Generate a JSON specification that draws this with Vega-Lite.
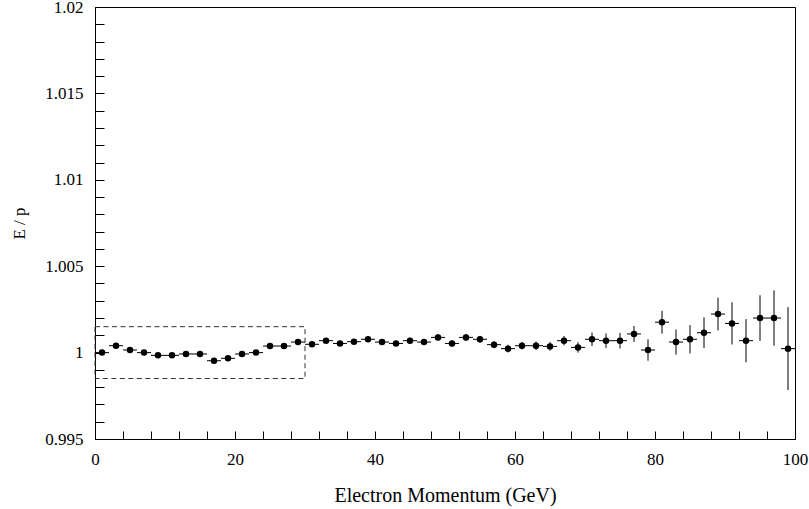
{
  "$schema": "https://vega.github.io/schema/vega-lite/v6.json",
  "width": 700,
  "height": 432,
  "autosize": {"type": "none"},
  "padding": {"left": 95, "top": 7, "right": 14, "bottom": 70},
  "background": "white",
  "config": {
    "font": "Liberation Serif, DejaVu Serif, serif",
    "view": {"stroke": "black", "strokeWidth": 1},
    "axis": {
      "grid": false,
      "domainColor": "black",
      "domainWidth": 1,
      "tickColor": "black",
      "tickWidth": 1,
      "labelColor": "black",
      "titleColor": "black",
      "labelFont": "Liberation Serif, DejaVu Serif, serif",
      "titleFont": "Liberation Serif, DejaVu Serif, serif",
      "labelFontSize": 17,
      "titleFontWeight": "normal",
      "labelOverlap": false,
      "labelBound": false,
      "labelFlush": false
    }
  },
  "datasets": {
    "pts": [
      {"p": 1, "ep": 1.0000, "err": 0.0001, "dp": 1},
      {"p": 3, "ep": 1.0004, "err": 0.0001, "dp": 1},
      {"p": 5, "ep": 1.00015, "err": 0.0001, "dp": 1},
      {"p": 7, "ep": 1.0000, "err": 0.0001, "dp": 1},
      {"p": 9, "ep": 0.99984, "err": 0.0001, "dp": 1},
      {"p": 11, "ep": 0.99984, "err": 0.0001, "dp": 1},
      {"p": 13, "ep": 0.99992, "err": 0.0001, "dp": 1},
      {"p": 15, "ep": 0.99992, "err": 0.0001, "dp": 1},
      {"p": 17, "ep": 0.99953, "err": 0.0001, "dp": 1},
      {"p": 19, "ep": 0.99967, "err": 0.0001, "dp": 1},
      {"p": 21, "ep": 0.99992, "err": 0.0001, "dp": 1},
      {"p": 23, "ep": 1.0000, "err": 0.0001, "dp": 1},
      {"p": 25, "ep": 1.00038, "err": 0.0001, "dp": 1},
      {"p": 27, "ep": 1.00038, "err": 0.0001, "dp": 1},
      {"p": 29, "ep": 1.00061, "err": 0.0001, "dp": 1},
      {"p": 31, "ep": 1.00048, "err": 0.00012, "dp": 1},
      {"p": 33, "ep": 1.00069, "err": 0.00012, "dp": 1},
      {"p": 35, "ep": 1.00053, "err": 0.00012, "dp": 1},
      {"p": 37, "ep": 1.00063, "err": 0.00013, "dp": 1},
      {"p": 39, "ep": 1.00077, "err": 0.00013, "dp": 1},
      {"p": 41, "ep": 1.00061, "err": 0.00014, "dp": 1},
      {"p": 43, "ep": 1.00053, "err": 0.00015, "dp": 1},
      {"p": 45, "ep": 1.00069, "err": 0.00017, "dp": 1},
      {"p": 47, "ep": 1.00061, "err": 0.00017, "dp": 1},
      {"p": 49, "ep": 1.00088, "err": 0.00018, "dp": 1},
      {"p": 51, "ep": 1.00053, "err": 0.00018, "dp": 1},
      {"p": 53, "ep": 1.00088, "err": 0.0002, "dp": 1},
      {"p": 55, "ep": 1.00077, "err": 0.0002, "dp": 1},
      {"p": 57, "ep": 1.00046, "err": 0.0002, "dp": 1},
      {"p": 59, "ep": 1.00023, "err": 0.00022, "dp": 1},
      {"p": 61, "ep": 1.0004, "err": 0.00022, "dp": 1},
      {"p": 63, "ep": 1.0004, "err": 0.00025, "dp": 1},
      {"p": 65, "ep": 1.00036, "err": 0.00025, "dp": 1},
      {"p": 67, "ep": 1.00069, "err": 0.00027, "dp": 1},
      {"p": 69, "ep": 1.0003, "err": 0.0003, "dp": 1},
      {"p": 71, "ep": 1.00077, "err": 0.00039, "dp": 1},
      {"p": 73, "ep": 1.00069, "err": 0.00042, "dp": 1},
      {"p": 75, "ep": 1.00069, "err": 0.00045, "dp": 1},
      {"p": 77, "ep": 1.00108, "err": 0.00046, "dp": 1},
      {"p": 79, "ep": 1.00015, "err": 0.00062, "dp": 1},
      {"p": 81, "ep": 1.00176, "err": 0.00066, "dp": 1},
      {"p": 83, "ep": 1.00061, "err": 0.00073, "dp": 1},
      {"p": 85, "ep": 1.00077, "err": 0.00082, "dp": 1},
      {"p": 87, "ep": 1.00115, "err": 0.00089, "dp": 1},
      {"p": 89, "ep": 1.00223, "err": 0.00095, "dp": 1},
      {"p": 91, "ep": 1.00169, "err": 0.00122, "dp": 1},
      {"p": 93, "ep": 1.00069, "err": 0.00125, "dp": 1},
      {"p": 95, "ep": 1.002, "err": 0.00132, "dp": 1},
      {"p": 97, "ep": 1.002, "err": 0.0016, "dp": 1},
      {"p": 99, "ep": 1.00023, "err": 0.0024, "dp": 1}
    ],
    "box": [
      {"p1": 0, "p2": 30, "e1": 0.9985, "e2": 1.0015}
    ]
  },
  "layer": [
    {
      "data": {"name": "box"},
      "mark": {"type": "rect", "fill": null, "fillOpacity": 0, "stroke": "#333333", "strokeWidth": 1, "strokeDash": [5, 3.5]},
      "encoding": {
        "x": {
          "field": "p1", "type": "quantitative",
          "scale": {"domain": [0, 100], "nice": false, "zero": false},
          "title": "Electron Momentum (GeV)",
          "axis": {
            "values": [0, 4, 8, 12, 16, 20, 24, 28, 32, 36, 40, 44, 48, 52, 56, 60, 64, 68, 72, 76, 80, 84, 88, 92, 96, 100],
            "tickCount": 200,
            "labelExpr": "datum.value % 20 === 0 ? format(datum.value, 'd') : ''",
            "ticks": true,
            "tickSize": -8,
            "labelPadding": 20,
            "labelOverlap": false,
            "titleFontSize": 20,
            "titlePadding": 18,
            "encode": {"ticks": {"update": {"y2": {"signal": "datum.value % 20 === 0 ? -17 : -8"}}}}
          }
        },
        "x2": {"field": "p2"},
        "y": {
          "field": "e1", "type": "quantitative",
          "scale": {"domain": [0.995, 1.02], "nice": false, "zero": false},
          "title": "E / p",
          "axis": {
            "values": [0.995, 0.996, 0.997, 0.998, 0.999, 1.0, 1.001, 1.002, 1.003, 1.004, 1.005, 1.006, 1.007, 1.008, 1.009, 1.01, 1.011, 1.012, 1.013, 1.014, 1.015, 1.016, 1.017, 1.018, 1.019, 1.02],
            "tickCount": 200,
            "labelExpr": "round(datum.value * 1000) % 5 === 0 ? format(datum.value, '.3~f') : ''",
            "ticks": true,
            "tickSize": -9,
            "labelPadding": 21,
            "labelOverlap": false,
            "titleFontSize": 17,
            "titlePadding": 16,
            "encode": {"ticks": {"update": {"x2": {"signal": "round(datum.value * 1000) % 5 === 0 ? 17 : 9"}}}}
          }
        },
        "y2": {"field": "e2"}
      }
    },
    {
      "data": {"name": "pts"},
      "mark": {"type": "errorbar", "color": "black", "ticks": false, "thickness": 1},
      "encoding": {
        "x": {"field": "p", "type": "quantitative", "title": "Electron Momentum (GeV)"},
        "y": {"field": "ep", "type": "quantitative", "title": "E / p"},
        "yError": {"field": "err"}
      }
    },
    {
      "data": {"name": "pts"},
      "mark": {"type": "errorbar", "color": "black", "ticks": false, "thickness": 1},
      "encoding": {
        "y": {"field": "ep", "type": "quantitative", "title": "E / p"},
        "x": {"field": "p", "type": "quantitative", "title": "Electron Momentum (GeV)"},
        "xError": {"field": "dp"}
      }
    },
    {
      "data": {"name": "pts"},
      "mark": {"type": "point", "shape": "circle", "filled": true, "color": "black", "opacity": 1, "size": 42},
      "encoding": {
        "x": {"field": "p", "type": "quantitative", "title": "Electron Momentum (GeV)"},
        "y": {"field": "ep", "type": "quantitative", "title": "E / p"}
      }
    }
  ]
}
